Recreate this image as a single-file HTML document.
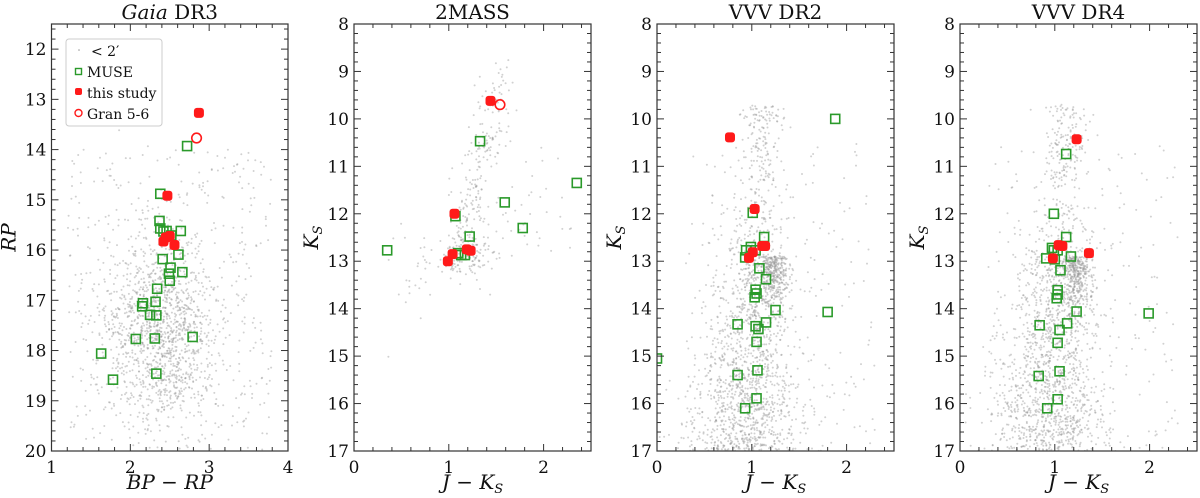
<!DOCTYPE html>
<html><head><meta charset="utf-8">
<style>
html,body{margin:0;padding:0;background:#fff;}
svg{display:block;font-family:"DejaVu Serif","Liberation Serif",serif;}
</style></head>
<body>
<svg id="fig" width="1200" height="498" viewBox="0 0 1200 498"></svg>
<script>
// ---- Gaia DR3 panel data ----
const gaiaMuseX=[2.72,2.38,2.37,2.38,2.42,2.46,2.64,2.52,2.41,2.61,2.51,2.49,2.66,2.50,2.34,2.32,2.16,2.15,2.25,2.33,2.79,2.07,2.31,1.63,1.78,2.33];
const gaiaMuseY=[13.93,14.88,15.42,15.57,15.63,15.62,15.62,15.71,16.18,16.09,16.35,16.47,16.44,16.61,16.77,17.03,17.06,17.12,17.29,17.30,17.73,17.77,17.76,18.06,18.58,18.46];
const gaiaRedX=[2.87,2.47,2.42,2.45,2.50,2.56];
const gaiaRedY=[13.27,14.92,15.83,15.75,15.72,15.90];
const gaiaGranX=[2.84];
const gaiaGranY=[13.77];
// ---- 2MASS panel data ----
const tmMuseX=[1.33,2.35,1.59,1.78,1.07,1.22,0.35,1.10,1.13,1.17];
const tmMuseY=[10.47,11.35,11.76,12.30,12.05,12.48,12.77,12.83,12.87,12.87];
const tmRedX=[1.44,1.06,1.04,0.99,1.19,1.23];
const tmRedY=[9.62,12.00,12.85,13.00,12.75,12.78];
const tmGranX=[1.54];
const tmGranY=[9.70];
// ---- VVV DR2 panel data ----
const v2MuseX=[1.88,1.01,1.13,0.99,0.94,1.04,0.93,1.08,1.15,1.04,1.05,1.03,1.25,1.80,0.85,1.04,1.15,1.07,1.05,1.06,0.85,1.05,0.93,0.0];
const v2MuseY=[10.0,11.98,12.49,12.70,12.77,12.77,12.92,13.15,13.38,13.60,13.68,13.76,14.03,14.07,14.33,14.37,14.29,14.43,14.70,15.30,15.40,15.89,16.10,15.05];
const v2RedX=[0.77,1.03,1.11,1.14,1.01,0.97];
const v2RedY=[10.39,11.90,12.68,12.68,12.81,12.93];
// ---- VVV DR4 panel data ----
const v4MuseX=[1.12,0.99,1.12,0.97,0.99,1.03,0.91,1.00,1.17,1.06,1.03,1.03,1.02,1.23,1.99,0.84,1.13,1.05,1.03,1.05,0.83,1.03,0.92];
const v4MuseY=[10.74,12.00,12.49,12.72,12.77,12.77,12.94,12.96,12.90,13.19,13.61,13.70,13.78,14.06,14.10,14.35,14.31,14.45,14.72,15.32,15.42,15.91,16.10];
const v4RedX=[1.23,1.04,1.08,1.36,0.98];
const v4RedY=[10.43,12.66,12.68,12.83,12.94];

const NS="http://www.w3.org/2000/svg";
const svg=document.getElementById('fig');
function mk(tag,attrs,parent){const e=document.createElementNS(NS,tag);for(const k in attrs)e.setAttribute(k,attrs[k]);(parent||svg).appendChild(e);return e;}

// deterministic PRNG for the background field-star density
let seed=12345;
function rnd(){seed=(seed*1664525+1013904223)>>>0;return seed/4294967296;}
function gauss(){let u=rnd()||1e-9,v=rnd();return Math.sqrt(-2*Math.log(u))*Math.cos(2*Math.PI*v);}

const panels=[
 {name:'gaia',title:'DR3',italic:'Gaia',x0:51.5,x1:288,y0:24,y1:451,xmin:1,xmax:4,ymin:11.5,ymax:20,xt:[1,2,3,4],yt:[12,13,14,15,16,17,18,19,20],xlab:'BP − RP',ylab:'RP',
  mx:gaiaMuseX,my:gaiaMuseY,rx:gaiaRedX,ry:gaiaRedY,gx:gaiaGranX,gy:gaiaGranY},
 {name:'2mass',title:'2MASS',x0:354,x1:591,y0:24,y1:451,xmin:0,xmax:2.5,ymin:8,ymax:17,xt:[0,1,2],yt:[8,9,10,11,12,13,14,15,16,17],xlab:'J − K',ylab:'K',
  mx:tmMuseX,my:tmMuseY,rx:tmRedX,ry:tmRedY,gx:tmGranX,gy:tmGranY},
 {name:'vvv-dr2',title:'VVV DR2',x0:657,x1:894,y0:24,y1:451,xmin:0,xmax:2.5,ymin:8,ymax:17,xt:[0,1,2],yt:[8,9,10,11,12,13,14,15,16,17],xlab:'J − K',ylab:'K',
  mx:v2MuseX,my:v2MuseY,rx:v2RedX,ry:v2RedY,gx:[],gy:[]},
 {name:'vvv-dr4',title:'VVV DR4',x0:960,x1:1197,y0:24,y1:451,xmin:0,xmax:2.5,ymin:8,ymax:17,xt:[0,1,2],yt:[8,9,10,11,12,13,14,15,16,17],xlab:'J − K',ylab:'K',
  mx:v4MuseX,my:v4MuseY,rx:v4RedX,ry:v4RedY,gx:[],gy:[]}
];

function fieldStars(p){
 const pts=[];
 if(p.name==='gaia'){
  for(let i=0;i<1300;i++)pts.push([2.4+gauss()*0.35,17.6+gauss()*0.95]);
  for(let i=0;i<450;i++)pts.push([1.2+rnd()*2.6,14+rnd()*6]);
 }else if(p.name==='2mass'){
  for(let i=0;i<230;i++){const t=rnd();pts.push([1.1+0.45*t+gauss()*0.1,13.1-4*t+gauss()*0.25]);}
  for(let i=0;i<90;i++)pts.push([1.2+gauss()*0.2,12.9+gauss()*0.2]);
  for(let i=0;i<80;i++){const t=rnd();pts.push([0.3+t*2.0,11.6+(1-t)*1.8+gauss()*0.6]);}
 }else{
  for(let i=0;i<1400;i++){const k=11+Math.sqrt(rnd())*6;const w=0.08+0.035*(k-10);pts.push([1.12-0.03*(k-10)+gauss()*w,k]);}
  for(let i=0;i<150;i++){const k=9.7+rnd()*1.6;pts.push([1.12+gauss()*0.12,k]);}
  for(let i=0;i<350;i++)pts.push([1.22+gauss()*0.08,12.9+Math.abs(gauss())*0.5]);
  for(let i=0;i<220;i++)pts.push([0.3+rnd()*2.0,10.5+rnd()*6.5]);
 }
 return pts;
}

panels.forEach(p=>{
 const g=mk('g',{});
 
 
 const sx=v=>p.x0+(v-p.xmin)/(p.xmax-p.xmin)*(p.x1-p.x0);
 const sy=v=>p.y0+(v-p.ymin)/(p.ymax-p.ymin)*(p.y1-p.y0);
 const cid='clip-'+p.name;
 const cp=mk('clipPath',{id:cid},g);mk('rect',{x:p.x0,y:p.y0,width:p.x1-p.x0,height:p.y1-p.y0},cp);
 const dg=mk('g',{'clip-path':'url(#'+cid+')'},g);
 const fs=mk('g',{fill:'#9a9a9a','fill-opacity':'0.45'},dg);
 
 
 fieldStars(p).forEach(([a,b])=>mk('circle',{cx:sx(a).toFixed(1),cy:sy(b).toFixed(1),r:1},fs));
 p.mx.forEach((v,i)=>{const r=mk('rect',{x:sx(v)-4.5,y:sy(p.my[i])-4.5,width:9,height:9,fill:'none',stroke:'#2a9a2a','stroke-width':1.6},dg);
  
  });
 p.rx.forEach((v,i)=>{const r=mk('rect',{x:sx(v)-5,y:sy(p.ry[i])-5,width:10,height:10,rx:3,fill:'#ff1a1a'},dg);
  
  });
 p.gx.forEach((v,i)=>{const c=mk('circle',{cx:sx(v),cy:sy(p.gy[i]),r:4.8,fill:'none',stroke:'#ff1a1a','stroke-width':1.6},dg);
  
  });
 mk('rect',{x:p.x0,y:p.y0,width:p.x1-p.x0,height:p.y1-p.y0,fill:'none',stroke:'#333','stroke-width':1.2},g);
 const tk=mk('g',{stroke:'#333','stroke-width':1},g);
 for(let v=p.xmin;v<=p.xmax+1e-9;v+=0.2){const X=sx(v);const maj=Math.abs(v-Math.round(v))<1e-6;const L=maj?7:4;
  mk('line',{x1:X,y1:p.y1,x2:X,y2:p.y1-L},tk);mk('line',{x1:X,y1:p.y0,x2:X,y2:p.y0+L},tk);}
 for(let v=Math.ceil(p.ymin*5)/5;v<=p.ymax+1e-9;v+=0.2){const Y=sy(v);const maj=Math.abs(v-Math.round(v))<1e-6;const L=maj?7:4;
  mk('line',{x1:p.x0,y1:Y,x2:p.x0+L,y2:Y},tk);mk('line',{x1:p.x1,y1:Y,x2:p.x1-L,y2:Y},tk);}
 p.xt.forEach(v=>{const t=mk('text',{x:sx(v),y:p.y1+22,'font-size':17,'text-anchor':'middle',fill:'#111'},g);t.textContent=v;
  });
 p.yt.forEach(v=>{const t=mk('text',{x:p.x0-5,y:sy(v)+6,'font-size':17,'text-anchor':'end',fill:'#111'},g);t.textContent=v;
  });
 const tt=mk('text',{x:(p.x0+p.x1)/2,y:19,'font-size':20,'text-anchor':'middle',fill:'#111'},g);
 
 if(p.italic){const s=mk('tspan',{'font-style':'italic'},tt);s.textContent=p.italic+' ';const s2=mk('tspan',{},tt);s2.textContent=p.title;}
 else tt.textContent=p.title;
 const xl=mk('text',{x:(p.x0+p.x1)/2,y:489,'font-size':20,'font-style':'italic','text-anchor':'middle',fill:'#111'},g);
 
 xl.textContent=p.xlab;
 if(p.name!=='gaia'){const s=mk('tspan',{'font-size':13,dy:4},xl);s.textContent='S';}
 const yx=p.x0-36, yy=(p.y0+p.y1)/2;
 const yl=mk('text',{x:yx,y:yy,'font-size':20,'font-style':'italic','text-anchor':'middle',fill:'#111',transform:'rotate(-90 '+yx+' '+yy+')'},g);
 
 yl.textContent=p.ylab;
 if(p.name!=='gaia'){const s=mk('tspan',{'font-size':13,dy:4},yl);s.textContent='S';}
});

const lg=mk('g',{});


mk('rect',{x:66,y:39,width:96,height:87,rx:3,fill:'#fff',stroke:'#ccc','stroke-width':1},lg);
mk('circle',{cx:79,cy:50,r:0.8,fill:'#999'},lg);
mk('rect',{x:75.5,y:68.5,width:6,height:6,fill:'none',stroke:'#2a9a2a','stroke-width':1.4},lg);
mk('rect',{x:75,y:88,width:7,height:7,rx:2,fill:'#ff1a1a'},lg);
mk('circle',{cx:78.5,cy:113,r:3.5,fill:'none',stroke:'#ff1a1a','stroke-width':1.4},lg);
[['< 2′',56],['MUSE',77],['this study',98],['Gran 5-6',119]].forEach(([t,y],i)=>{
 const e=mk('text',{x:i===0?91:87,y:y,'font-size':14,fill:'#111'},lg);e.textContent=t;
 });
</script>
</body></html>
